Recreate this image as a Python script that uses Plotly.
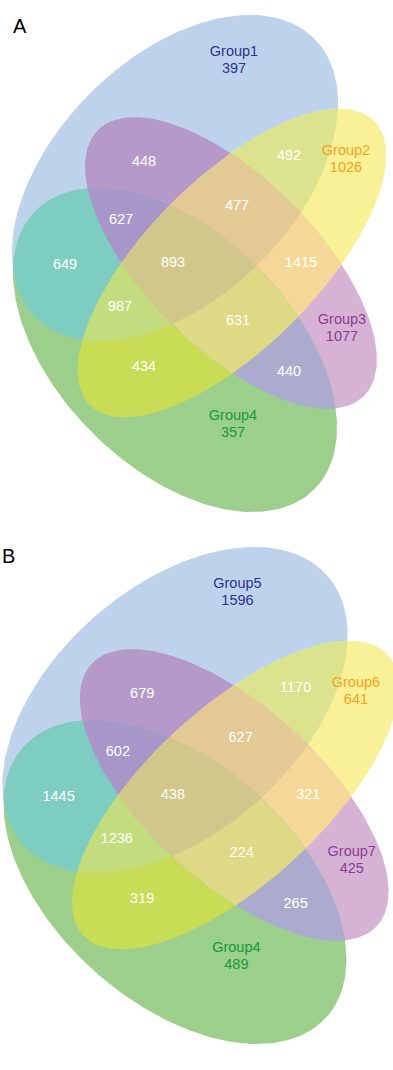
import itertools
import numpy as np
import plotly.graph_objects as go

# ---------------- data ----------------
panel_a_groups = ["Group1", "Group2", "Group3", "Group4"]
panel_a_totals = [397, 1026, 1077, 357]
panel_b_groups = ["Group5", "Group6", "Group7", "Group4"]
panel_b_totals = [1596, 641, 425, 489]

# overlap regions as tuples of set indices (0 = blue, 1 = yellow, 2 = purple, 3 = green)
overlap_sets = [(0, 2), (0, 1), (0, 2, 3), (0, 1, 2), (0, 3), (0, 1, 2, 3),
                (1, 2), (0, 1, 3), (1, 2, 3), (1, 3), (2, 3)]
panel_a_overlaps = [448, 492, 627, 477, 649, 893, 1415, 987, 631, 434, 440]
panel_b_overlaps = [679, 1170, 602, 627, 1445, 438, 321, 1236, 224, 319, 265]

# ---------------- layout of the four-ellipse diagram ----------------
# cx, cy, semi-major, semi-minor, rotation (deg, y axis pointing down)
ELLIPSES = [
    (175, 178, 197, 120, -45),
    (232, 263, 201, 85, -45),
    (231, 263, 188, 85, 45),
    (175, 350, 197, 117, 45),
]

# colour of every exclusive region (key = sorted tuple of sets)
REGION_COLORS = {
    (0,): "#BDD3EB",
    (1,): "#F8F198",
    (2,): "#D6B2D5",
    (3,): "#9DCF8C",
    (0, 1): "#DCE38E",
    (0, 2): "#B499C9",
    (0, 3): "#7DCDC1",
    (1, 2): "#F5D797",
    (1, 3): "#C9DC55",
    (2, 3): "#ABABCD",
    (0, 1, 2): "#E3C994",
    (0, 2, 3): "#A797C9",
    (0, 1, 3): "#C3DC7E",
    (1, 2, 3): "#DDD985",
    (0, 1, 2, 3): "#D2C78B",
}

GROUP_COLORS = ["#2E3192", "#F5A21E", "#8C3C96", "#17993C"]

# label anchors (diagram coordinates)
OVERLAP_POS = [(144, 162), (289, 156), (121, 220), (237, 206), (65, 265), (173, 263),
               (301, 263), (120, 307), (238, 321), (144, 367), (289, 372)]
GROUP_POS = [(234, 52), (346, 151), (342, 320), (233, 416)]
LINE_GAP = 17

FONT = "Arial, Liberation Sans, sans-serif"


def ellipse_poly(cx, cy, a, b, ang, n=240):
    t = np.linspace(0, 2 * np.pi, n, endpoint=False)
    c, s = np.cos(np.radians(ang)), np.sin(np.radians(ang))
    x = cx + a * np.cos(t) * c - b * np.sin(t) * s
    y = cy + a * np.cos(t) * s + b * np.sin(t) * c
    return list(zip(x, y))


def clip(subject, clipper):
    """Sutherland-Hodgman clipping of a polygon by a convex polygon."""
    def cross(o, p, q):
        return (p[0] - o[0]) * (q[1] - o[1]) - (p[1] - o[1]) * (q[0] - o[0])

    out = list(subject)
    m = len(clipper)
    for i in range(m):
        if not out:
            break
        a, b = clipper[i], clipper[(i + 1) % m]
        inp, out = out, []
        s = inp[-1]
        for e in inp:
            de, ds = cross(a, b, e), cross(a, b, s)
            if de >= 0:
                if ds < 0:
                    t = ds / (ds - de)
                    out.append((s[0] + t * (e[0] - s[0]), s[1] + t * (e[1] - s[1])))
                out.append(e)
            elif ds >= 0:
                t = ds / (ds - de)
                out.append((s[0] + t * (e[0] - s[0]), s[1] + t * (e[1] - s[1])))
            s = e
    return out


polys = [ellipse_poly(*e) for e in ELLIPSES]

fig = go.Figure()


def add_panel(xa, ya, groups, totals, overlaps):
    # paint intersections in order of size, so each area ends with its own colour
    for k in range(1, 5):
        for combo in itertools.combinations(range(4), k):
            poly = polys[combo[0]]
            for j in combo[1:]:
                poly = clip(poly, polys[j])
            if len(poly) < 3:
                continue
            xs = [p[0] for p in poly] + [poly[0][0]]
            ys = [p[1] for p in poly] + [poly[0][1]]
            fig.add_trace(go.Scatter(
                x=xs, y=ys, mode="lines", fill="toself",
                fillcolor=REGION_COLORS[combo], line=dict(width=0, color=REGION_COLORS[combo]),
                hoverinfo="skip", showlegend=False, xaxis=xa, yaxis=ya))

    fig.add_trace(go.Scatter(
        x=[p[0] for p in OVERLAP_POS], y=[p[1] for p in OVERLAP_POS],
        text=[str(v) for v in overlaps], mode="text",
        textfont=dict(family=FONT, size=14.5, color="white"),
        hoverinfo="skip", showlegend=False, xaxis=xa, yaxis=ya))

    for i in range(4):
        gx, gy = GROUP_POS[i]
        fig.add_trace(go.Scatter(
            x=[gx, gx], y=[gy, gy + LINE_GAP], text=[groups[i], str(totals[i])],
            mode="text", textfont=dict(family=FONT, size=14.5, color=GROUP_COLORS[i]),
            hoverinfo="skip", showlegend=False, xaxis=xa, yaxis=ya))


add_panel("x", "y", panel_a_groups, panel_a_totals, panel_a_overlaps)
add_panel("x2", "y2", panel_b_groups, panel_b_totals, panel_b_overlaps)

hidden = dict(visible=False, showgrid=False, zeroline=False, fixedrange=True)
fig.update_layout(
    width=393, height=1070,
    margin=dict(l=0, r=0, t=0, b=0),
    paper_bgcolor="white", plot_bgcolor="rgba(0,0,0,0)",
    xaxis=dict(domain=[0, 1], range=[0, 393], anchor="y", **hidden),
    yaxis=dict(domain=[0.5, 1], range=[535, 0], anchor="x", **hidden),
    xaxis2=dict(domain=[0, 1], range=[9.6, 381], anchor="y2", **hidden),
    yaxis2=dict(domain=[0, 0.5], range=[538, 3], anchor="x2", **hidden),
    annotations=[
        dict(text="A", x=20 / 393, y=1 - 26 / 1070, xref="paper", yref="paper",
             xanchor="center", yanchor="middle", showarrow=False,
             font=dict(family=FONT, size=20, color="black")),
        dict(text="B", x=8 / 393, y=1 - 556 / 1070, xref="paper", yref="paper",
             xanchor="center", yanchor="middle", showarrow=False,
             font=dict(family=FONT, size=20, color="black")),
    ],
)

fig.write_html("out.html", config={"displayModeBar": False})
